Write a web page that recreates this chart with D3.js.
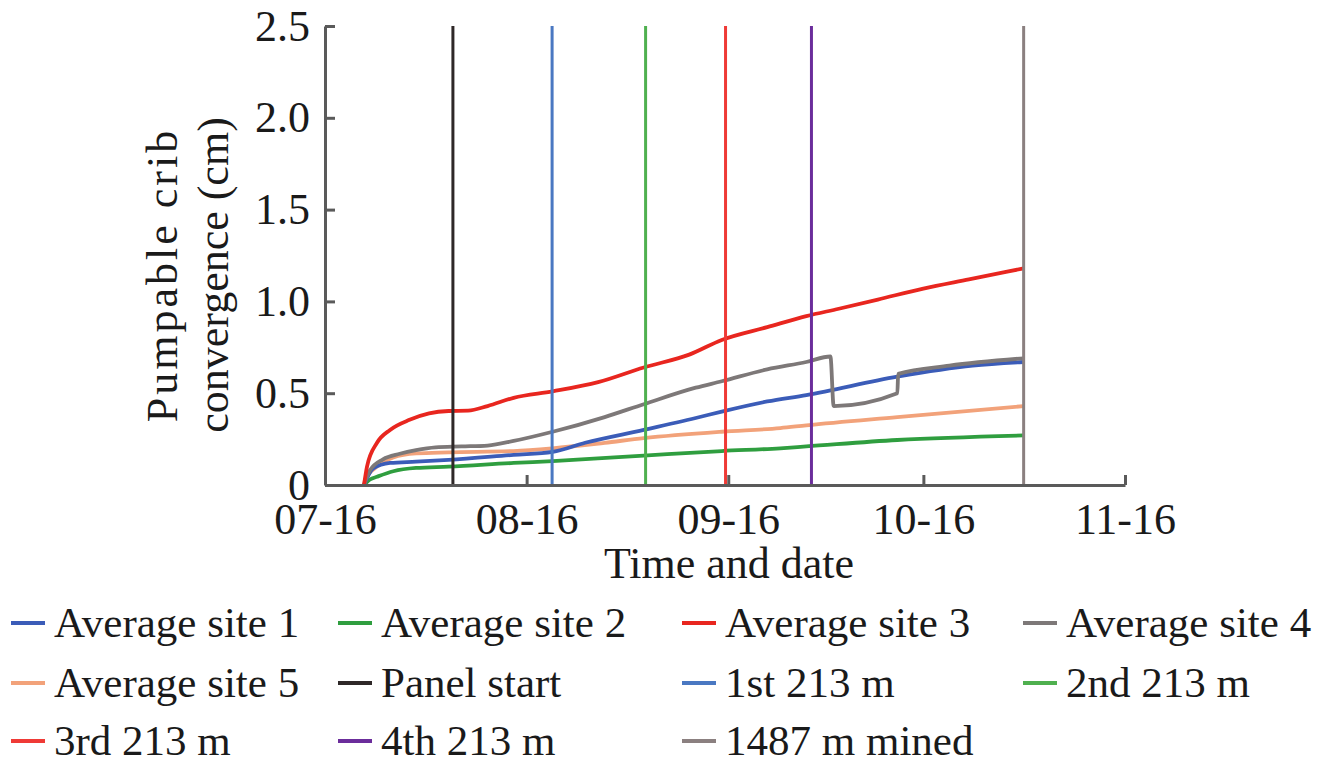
<!DOCTYPE html>
<html>
<head>
<meta charset="utf-8">
<script src="https://cdn.jsdelivr.net/npm/d3@7"></script>
<style>
  html, body { margin: 0; padding: 0; background: #fff; }
  svg { display: block; }
</style>
</head>
<body>
<svg id="chart" width="1342" height="764"></svg>
<script>
// Crib convergence readings (cm) per monitoring site, by date/time
const site1 = [
  ["2016-07-22 00:00", 0], ["2016-07-23 10:00", 0.09], ["2016-07-26 00:00", 0.12],
  ["2016-07-30 00:00", 0.127], ["2016-08-04 00:00", 0.137], ["2016-08-14 00:00", 0.164],
  ["2016-08-20 00:00", 0.18], ["2016-08-25 00:00", 0.23], ["2016-09-03 00:00", 0.30],
  ["2016-09-11 00:00", 0.365], ["2016-09-15 00:00", 0.40], ["2016-09-22 00:00", 0.455],
  ["2016-09-28 00:00", 0.49], ["2016-10-12 00:00", 0.59], ["2016-10-23 14:00", 0.65],
  ["2016-10-31 10:00", 0.67]
];
const site2 = [
  ["2016-07-22 00:00", 0], ["2016-07-22 22:00", 0.03], ["2016-07-24 00:00", 0.045],
  ["2016-07-26 12:00", 0.075], ["2016-07-30 00:00", 0.093], ["2016-08-04 00:00", 0.10],
  ["2016-08-14 00:00", 0.12], ["2016-08-20 00:00", 0.13], ["2016-09-03 00:00", 0.16],
  ["2016-09-15 00:00", 0.185], ["2016-09-24 00:00", 0.20], ["2016-09-28 00:00", 0.21],
  ["2016-10-12 00:00", 0.245], ["2016-10-31 10:00", 0.27]
];
const site3 = [
  ["2016-07-22 00:00", 0], ["2016-07-22 11:00", 0.10], ["2016-07-24 00:00", 0.23],
  ["2016-07-26 00:00", 0.30], ["2016-07-29 00:00", 0.355], ["2016-08-01 00:00", 0.39],
  ["2016-08-04 00:00", 0.403], ["2016-08-07 00:00", 0.405], ["2016-08-10 00:00", 0.43],
  ["2016-08-14 00:00", 0.475], ["2016-08-20 00:00", 0.51], ["2016-08-27 00:00", 0.56],
  ["2016-09-03 00:00", 0.64], ["2016-09-10 00:00", 0.71], ["2016-09-15 00:00", 0.79],
  ["2016-09-22 00:00", 0.86], ["2016-09-28 00:00", 0.92], ["2016-10-03 00:00", 0.96],
  ["2016-10-09 00:00", 1.01], ["2016-10-16 00:00", 1.07], ["2016-10-23 00:00", 1.12],
  ["2016-10-31 10:00", 1.18]
];
const site4 = [
  ["2016-07-22 00:00", 0], ["2016-07-22 22:00", 0.08], ["2016-07-24 22:00", 0.14],
  ["2016-07-27 12:00", 0.17], ["2016-07-30 00:00", 0.19], ["2016-08-02 00:00", 0.205],
  ["2016-08-06 00:00", 0.21], ["2016-08-10 00:00", 0.215], ["2016-08-14 00:00", 0.24],
  ["2016-08-20 00:00", 0.29], ["2016-08-28 00:00", 0.37], ["2016-09-03 00:00", 0.44],
  ["2016-09-11 00:00", 0.53], ["2016-09-15 00:00", 0.565], ["2016-09-22 00:00", 0.63],
  ["2016-09-28 00:00", 0.67], ["2016-10-01 17:00", 0.70], ["2016-10-02 05:00", 0.43],
  ["2016-10-12 00:00", 0.50], ["2016-10-12 03:00", 0.605], ["2016-10-20 00:00", 0.65],
  ["2016-10-31 10:00", 0.69]
];
const site5 = [
  ["2016-07-22 00:00", 0], ["2016-07-22 04:00", 0.03], ["2016-07-24 00:00", 0.10],
  ["2016-07-26 12:00", 0.15], ["2016-07-30 00:00", 0.172], ["2016-08-04 00:00", 0.178],
  ["2016-08-14 00:00", 0.185], ["2016-08-20 00:00", 0.20], ["2016-08-28 00:00", 0.23],
  ["2016-09-03 00:00", 0.255], ["2016-09-15 00:00", 0.29], ["2016-09-24 00:00", 0.31],
  ["2016-09-28 00:00", 0.325], ["2016-10-12 00:00", 0.37], ["2016-10-31 10:00", 0.43]
];

// Mining milestones
const eventNames = ["Panel start", "1st 213 m", "2nd 213 m", "3rd 213 m", "4th 213 m", "1487 m mined"];
const eventDates = ["2016-08-04 16:00", "2016-08-19 22:00", "2016-09-03 07:00",
                    "2016-09-15 14:00", "2016-09-28 19:00", "2016-10-31 10:00"];

// Axis ticks
const xTickDates = ["2016-07-16", "2016-08-16", "2016-09-16", "2016-10-16", "2016-11-16"];
const yTickValues = [0, 0.5, 1.0, 1.5, 2.0, 2.5];

// Legend order (row by row)
const legendOrder = ["Average site 1", "Average site 2", "Average site 3", "Average site 4",
                     "Average site 5", "Panel start", "1st 213 m", "2nd 213 m",
                     "3rd 213 m", "4th 213 m", "1487 m mined"];

// ---- styling ----
const colors = {
  "Average site 1": "#3b5cb8",
  "Average site 2": "#2f9e3f",
  "Average site 3": "#e8261f",
  "Average site 4": "#7d7878",
  "Average site 5": "#f2a27a",
  "Panel start": "#2e2828",
  "1st 213 m": "#4a78c2",
  "2nd 213 m": "#4fb04f",
  "3rd 213 m": "#ef3a36",
  "4th 213 m": "#6b2d9b",
  "1487 m mined": "#8b8080"
};
const fontFamily = '"Liberation Serif"';
const textColor = "#1a1a1a";

// Apply the serif face and size to a text selection
function serif(sel, size) {
  return sel
    .style("font-family", fontFamily)
    .style("font-size", size + "px")
    .attr("fill", textColor);
}

const parseTime = d3.utcParse("%Y-%m-%d %H:%M");
const parseDay = d3.utcParse("%Y-%m-%d");

const svg = d3.select("#chart");

const plot = { left: 325, right: 1125, top: 26, bottom: 485 };

const x = d3.scaleUtc()
  .domain([parseDay(xTickDates[0]), parseDay(xTickDates[xTickDates.length - 1])])
  .range([plot.left, plot.right]);
const y = d3.scaleLinear().domain([0, 2.5]).range([plot.bottom, plot.top]);

const line = d3.line()
  .x(d => x(parseTime(d[0])))
  .y(d => y(d[1]))
  .curve(d3.curveMonotoneX);

// Curves: drawn in order so red sits above the others where they overlap
const seriesData = [site2, site5, site1, site4, site3];
const seriesKeys = ["Average site 2", "Average site 5", "Average site 1", "Average site 4", "Average site 3"];
svg.append("g").selectAll("path")
  .data(seriesData)
  .join("path")
  .attr("d", line)
  .attr("fill", "none")
  .attr("stroke", (d, i) => colors[seriesKeys[i]])
  .attr("stroke-width", 3.8)
  .attr("stroke-linejoin", "round");

// Event markers
svg.append("g").selectAll("line")
  .data(eventDates)
  .join("line")
  .attr("x1", d => x(parseTime(d)))
  .attr("x2", d => x(parseTime(d)))
  .attr("y1", y(0))
  .attr("y2", y(2.5))
  .attr("stroke", (d, i) => colors[eventNames[i]])
  .attr("stroke-width", 3);

// Axes
const axisColor = "#5a5a5a";
const xAxis = d3.axisBottom(x)
  .tickValues(xTickDates.map(parseDay))
  .tickFormat(d3.utcFormat("%m-%d"))
  .tickSizeInner(-10)
  .tickSizeOuter(0)
  .tickPadding(18);
const gx = svg.append("g").attr("transform", `translate(0,${plot.bottom})`).call(xAxis);

const yAxis = d3.axisLeft(y)
  .tickValues(yTickValues)
  .tickFormat(d => d === 0 ? "0" : d3.format(".1f")(d))
  .tickSizeInner(-10)
  .tickSizeOuter(0)
  .tickPadding(15);
const gy = svg.append("g").attr("transform", `translate(${plot.left},0)`).call(yAxis);

[gx, gy].forEach(g => {
  g.attr("font-family", null).attr("font-size", null);
  g.select(".domain").attr("stroke", axisColor).attr("stroke-width", 3);
  g.selectAll(".tick line").attr("stroke", axisColor).attr("stroke-width", 3);
  serif(g.selectAll(".tick text"), 44);
});

// Axis titles
serif(svg.append("text"), 44)
  .attr("x", 729).attr("y", 578)
  .attr("text-anchor", "middle")
  .text("Time and date");

const yTitle = svg.append("g").attr("transform", "translate(0,275) rotate(-90)");
serif(yTitle.append("text"), 44)
  .attr("x", 0).attr("y", 177)
  .attr("text-anchor", "middle")
  .style("letter-spacing", "3px")
  .text("Pumpable crib");
serif(yTitle.append("text"), 44)
  .attr("x", 0).attr("y", 228)
  .attr("text-anchor", "middle")
  .text("convergence (cm)");

// Legend
const legendCols = [11, 338, 682, 1023];
const legendRows = [637, 697, 755];
const lg = svg.append("g").selectAll("g")
  .data(legendOrder)
  .join("g")
  .attr("transform", (d, i) => `translate(${legendCols[i % 4]},${legendRows[Math.floor(i / 4)]})`);
lg.append("line")
  .attr("x1", 0).attr("x2", 34)
  .attr("y1", -14).attr("y2", -14)
  .attr("stroke", d => colors[d])
  .attr("stroke-width", 4);
serif(lg.append("text"), 43)
  .attr("x", 43).attr("y", 0)
  .text(d => d);
</script>
</body>
</html>
